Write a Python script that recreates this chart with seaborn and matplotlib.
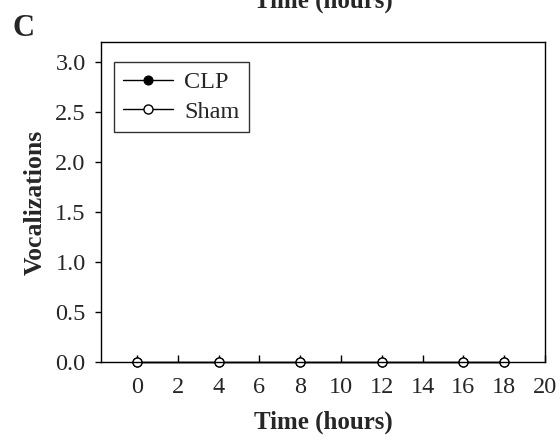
import matplotlib
matplotlib.use("Agg")
import matplotlib.pyplot as plt
import seaborn as sns
import pandas as pd

# Vocalization counts over time after surgery
hours = [0, 4, 8, 12, 16, 18]
clp_vocalizations = [0, 0, 0, 0, 0, 0]
sham_vocalizations = [0, 0, 0, 0, 0, 0]
x_ticks = list(range(0, 21, 2))
y_ticks = [0.0, 0.5, 1.0, 1.5, 2.0, 2.5, 3.0]

df = pd.DataFrame({
    "Time": hours * 2,
    "Vocalizations": clp_vocalizations + sham_vocalizations,
    "Group": ["CLP"] * len(hours) + ["Sham"] * len(hours),
})

sns.set_style("white")
plt.rcParams["font.family"] = ["Liberation Serif", "DejaVu Serif"]

fig = plt.figure(figsize=(5.6, 4.47), dpi=100)
ax = fig.add_axes([101 / 560, 1 - 362 / 447, 444 / 560, 320 / 447])

sns.lineplot(data=df[df.Group == "CLP"], x="Time", y="Vocalizations", ax=ax,
             color="black", lw=1.0, marker="o", markersize=6.5,
             markerfacecolor="black", markeredgecolor="black", clip_on=False,
             label="CLP")
sns.lineplot(data=df[df.Group == "Sham"], x="Time", y="Vocalizations", ax=ax,
             color="black", lw=1.0, marker="o", markersize=6.5,
             markerfacecolor="white", markeredgecolor="black", markeredgewidth=1.0,
             clip_on=False, label="Sham")

ax.set_xlim(-1.76, 20)
ax.set_ylim(0, 3.2)
ax.set_xticks(x_ticks)
ax.set_yticks(y_ticks)
ax.set_yticklabels([f"{v:.1f}" for v in y_ticks])
ax.tick_params(axis="x", direction="in", length=5, width=1, labelsize=17.5, pad=11, color="black", bottom=True)
ax.tick_params(axis="y", direction="out", length=4, width=1, labelsize=17.5, pad=7, color="black", left=True)

for side in ["left", "bottom", "right", "top"]:
    ax.spines[side].set_visible(True)
    ax.spines[side].set_color("black")
    ax.spines[side].set_linewidth(1.0)

ax.set_xlabel("Time (hours)", fontsize=18, fontweight="bold", labelpad=9)
ax.set_ylabel("Vocalizations", fontsize=18.5, fontweight="bold", labelpad=6)

leg = ax.legend(loc="upper left", bbox_to_anchor=(13 / 444, 1 - 20 / 320), frameon=True,
                fancybox=False, edgecolor="black", fontsize=17.5, handlelength=2.05,
                handletextpad=0.45, borderpad=0.38, labelspacing=0.3, borderaxespad=0)
leg.get_frame().set_linewidth(1.0)

fig.text(23 / 560, 1 - 28 / 447, "C", fontsize=22, fontweight="bold", ha="center", va="center")
fig.text(323 / 560, 1 - 1 / 447, "Time (hours)", fontsize=18, fontweight="bold", ha="center", va="center")

fig.savefig("out.png", dpi=100)
